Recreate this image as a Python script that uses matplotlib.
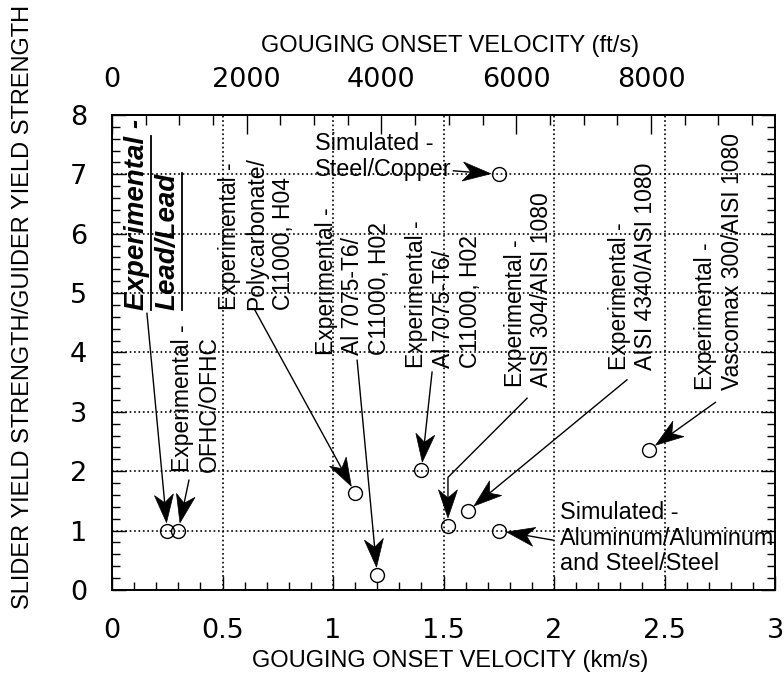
import matplotlib
matplotlib.use("Agg")
import numpy as np
import matplotlib.pyplot as plt
from matplotlib.lines import Line2D
from matplotlib.patches import Polygon
from matplotlib.ticker import MultipleLocator, FuncFormatter

plt.rcParams['font.family'] = ['Liberation Sans', 'DejaVu Sans']

KM_TO_FT = 3280.84

# gouging onset velocity (km/s) and slider / guider yield strength ratio
velocity = [0.25, 0.30, 1.10, 1.20, 1.40, 1.52, 1.61, 1.75, 2.43, 1.75]
strength_ratio = [1.0, 1.0, 1.63, 0.25, 2.02, 1.08, 1.33, 1.0, 2.36, 7.0]

x_ticks = [0, 0.5, 1, 1.5, 2, 2.5, 3]
y_ticks = [0, 1, 2, 3, 4, 5, 6, 7, 8]
ft_ticks = [0, 2000, 4000, 6000, 8000]

# label text, text anchor, arrow start, index of the point it marks
notes = [
    ("Experimental -\nOFHC/OFHC", (0.38, 1.99), (0.348, 1.85), 1),
    ("Experimental -\nPolycarbonate/\nC11000, H04", (0.654, 4.71), (0.647, 4.71), 2),
    ("Experimental -\nAl 7075-T6/\nC11000, H02", (1.09, 3.96), (1.109, 3.87), 3),
    ("Experimental -\nAl 7075-T6/\nC11000, H02", (1.50, 3.74), (1.448, 3.67), 4),
    ("Experimental -\nAISI 304/AISI 1080", (1.885, 3.42), (1.878, 3.23), 5),
    ("Experimental -\nAISI 4340/AISI 1080", (2.355, 3.70), (2.33, 3.54), 6),
    ("Experimental -\nVascomax 300/AISI 1080", (2.747, 3.37), (2.73, 3.16), 8),
]
sim_notes = [
    ("Simulated -\nSteel/Copper", (0.919, 7.30), (1.545, 7.06), 9),
    ("Simulated -\nAluminum/Aluminum\nand Steel/Steel", (2.027, 0.875), (1.995, 0.84), 7),
]

fig = plt.figure(figsize=(7.84, 6.78), dpi=100)
ax = fig.add_axes([0.1429, 0.1298, 0.8457, 0.7006])

ax.plot(velocity, strength_ratio, 'o', ms=10, mfc='none', mec='black', mew=1.0,
        ls='none', zorder=5)

ax.set_xlim(0, 3)
ax.set_ylim(0, 8)
ax.set_xticks(x_ticks)
ax.set_yticks(y_ticks)
ax.xaxis.set_minor_locator(MultipleLocator(0.1))
ax.yaxis.set_minor_locator(MultipleLocator(0.2))
ax.xaxis.set_major_formatter(FuncFormatter(lambda v, p: '%g' % v))
ax.grid(True, which='major', color='black', linestyle=':', linewidth=1.2)
ax.tick_params(which='both', direction='in', top=False, right=True, width=1)
ax.tick_params(which='major', length=10)
ax.tick_params(which='minor', length=6)
ax.tick_params(axis='x', labelsize=19.5, pad=20, labelfontfamily='DejaVu Sans')
ax.tick_params(axis='y', labelsize=19.5, pad=18, labelfontfamily='DejaVu Sans')
for s in ax.spines.values():
    s.set_linewidth(1.4)

top = ax.secondary_xaxis('top', functions=(lambda v: v * KM_TO_FT,
                                           lambda v: v / KM_TO_FT))
top.set_xticks(ft_ticks)
top.xaxis.set_minor_locator(MultipleLocator(500))
top.tick_params(which='both', direction='in', width=1)
top.tick_params(which='major', length=14, labelsize=19.5, pad=16,
                labelfontfamily='DejaVu Sans')
top.tick_params(which='minor', length=7)
top.spines['top'].set_linewidth(1.4)

W, H = fig.bbox.width, fig.bbox.height


def to_fig(p):
    return (p[0] / W, p[1] / H)


def draw_arrow(start, i, bend=False, r=8.0, head_len=28.0, head_w=9.5, notch=8.0):
    """Line from start to point i, ending in a notched black head."""
    s = ax.transData.transform(start)
    c = ax.transData.transform((velocity[i], strength_ratio[i]))
    if bend:
        # 45 degree leg from the label, then straight down to the point
        corner = np.array([c[0], s[1] - (s[0] - c[0])])
        path = [s, corner]
        u = c - corner
    else:
        path = [s]
        u = c - s
    u = u / np.hypot(*u)
    tip = c - u * r
    path.append(tip - u * (head_len - notch))
    n = np.array([-u[1], u[0]])
    base = tip - u * head_len
    head = [tip, base + n * head_w, tip - u * (head_len - notch), base - n * head_w]
    fig.add_artist(Line2D([to_fig(p)[0] for p in path], [to_fig(p)[1] for p in path],
                          color='black', lw=1.0))
    fig.add_artist(Polygon([to_fig(p) for p in head], closed=True,
                           facecolor='black', edgecolor='black', lw=0.5))


for text, pos, start, i in notes:
    ax.text(pos[0], pos[1], text, rotation=90, ha='center', va='bottom',
            multialignment='left', fontsize=16.5, linespacing=1.2)
    draw_arrow(start, i, bend=(i == 5))

for text, pos, start, i in sim_notes:
    ax.text(pos[0], pos[1], text, ha='left', va='center',
            multialignment='left', fontsize=16.8, linespacing=1.15)
    draw_arrow(start, i)

# lead/lead note in bold italic, underlined
bold = dict(rotation=90, ha='center', va='bottom', fontsize=20,
            fontweight='bold', fontstyle='italic')
lead1 = ax.text(0.113, 4.71, "Experimental -", **bold)
lead2 = ax.text(0.252, 4.71, "Lead/Lead", **bold)
draw_arrow((0.158, 4.66), 0)

fig.canvas.draw()
renderer = fig.canvas.get_renderer()
probe = ax.text(0.113, 4.71, "Experimental", **bold)
under_len = probe.get_window_extent(renderer).height
probe.remove()
for t, length in ((lead1, under_len), (lead2, None)):
    bb = t.get_window_extent(renderer)
    length = bb.height if length is None else length
    xl = bb.x1 + 1
    fig.add_artist(Line2D([xl / W, xl / W], [bb.y0 / H, (bb.y0 + length) / H],
                          color='black', lw=1.3))

fig.text(450 / 784, 1 - 46 / 678, "GOUGING ONSET VELOCITY (ft/s)",
         ha='center', va='center', fontsize=17)
fig.text(450 / 784, 1 - 661 / 678, "GOUGING ONSET VELOCITY (km/s)",
         ha='center', va='center', fontsize=17)
fig.text(23 / 784, 1 - 307 / 678, "SLIDER YIELD STRENGTH/GUIDER YIELD STRENGTH",
         rotation=90, ha='center', va='center', fontsize=17)

fig.savefig("out.png", dpi=100)
